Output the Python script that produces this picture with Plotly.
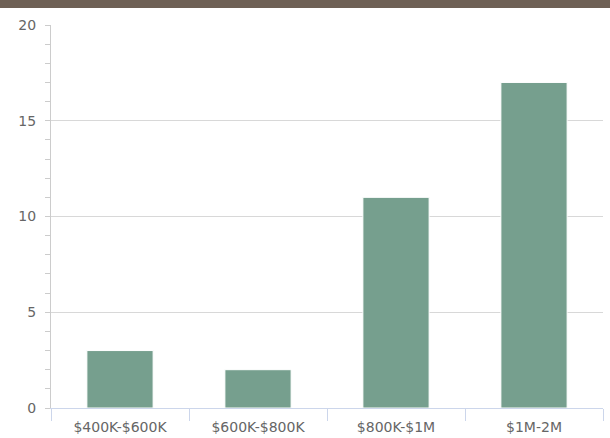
import plotly.graph_objects as go

categories = ["$400K-$600K", "$600K-$800K", "$800K-$1M", "$1M-2M"]
values = [3, 2, 11, 17]
y_tick_values = [0, 5, 10, 15, 20]

W, H = 610, 438
ml, mr, mt, mb = 51, 7, 25, 30
pw, ph = W - ml - mr, H - mt - mb

fig = go.Figure(go.Bar(
    x=categories, y=values,
    marker=dict(color="#769f8e", line=dict(color="#ffffff", width=1)),
    width=0.48,
))

fig.update_layout(
    width=W, height=H,
    margin=dict(l=ml, r=mr, t=mt, b=mb),
    paper_bgcolor="white", plot_bgcolor="white",
    showlegend=False,
    font=dict(family="DejaVu Sans", size=14, color="#666666"),
    shapes=[dict(
        type="rect", xref="paper", yref="paper",
        x0=-ml / pw, x1=1 + mr / pw,
        y0=1 + (mt - 8) / ph, y1=1 + mt / ph,
        fillcolor="#6e6055", line=dict(width=0), layer="above",
    )],
)

fig.update_yaxes(
    range=[0, 20], tickvals=y_tick_values,
    showgrid=True, gridcolor="#d8d8d8", gridwidth=1,
    showline=True, linecolor="#cccccc", linewidth=1,
    ticks="outside", ticklen=5, tickcolor="#cccccc",
    minor=dict(dtick=1, ticks="outside", ticklen=5, tickcolor="#cccccc", showgrid=False),
    zeroline=False,
    ticklabelstandoff=6,
    automargin=False,
    tickfont=dict(size=14, color="#666666"),
)

fig.update_xaxes(
    showgrid=False,
    showline=True, linecolor="#ccd6eb", linewidth=1,
    ticks="outside", tickson="boundaries", ticklen=12, tickcolor="#ccd6eb",
    ticklabelstandoff=6,
    automargin=False,
    tickfont=dict(size=14, color="#666666"),
)

fig.write_html("out.html")
